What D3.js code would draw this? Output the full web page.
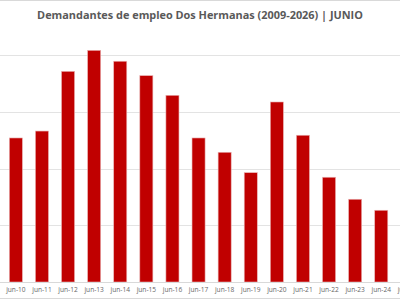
<!DOCTYPE html>
<html><head><meta charset="utf-8">
<script src="https://cdn.jsdelivr.net/npm/d3@7"></script>
<style>body{margin:0;background:#fff}svg{display:block}</style>
</head><body>
<svg id="c" width="400" height="300"></svg>
<script>
const title = "Demandantes de empleo Dos Hermanas (2009-2026) | JUNIO";
const categories = ["jun-09","jun-10","jun-11","jun-12","jun-13","jun-14","jun-15","jun-16","jun-17","jun-18","jun-19","jun-20","jun-21","jun-22","jun-23","jun-24","jun-25"];
const values = [null,12690,13300,18560,20410,19450,18180,16450,12690,11430,9630,15860,12930,9230,7290,6320,5000];
const gridTicks = [0,5000,10000,15000,20000,25000];

const svg = d3.select("#c");
const x = d3.scaleBand().domain(categories).range([-23.3, -23.3 + 17*26.1]).paddingInner(0.5).paddingOuter(0.25);
const y = d3.scaleLinear().domain([0, 20000]).range([282, 55]);

// borders
svg.append("line").attr("x1",0).attr("x2",400).attr("y1",0.5).attr("y2",0.5).attr("stroke","#d9d9d9");
svg.append("line").attr("x1",0).attr("x2",400).attr("y1",298.5).attr("y2",298.5).attr("stroke","#d9d9d9");

// gridlines
svg.append("g").selectAll("line").data(gridTicks.filter(d=>d>0)).join("line")
  .attr("x1",0).attr("x2",400)
  .attr("y1",d=>Math.round(y(d))+0.5).attr("y2",d=>Math.round(y(d))+0.5)
  .attr("stroke","#e3e3e3").attr("stroke-width",1);

// bars
svg.append("g").selectAll("rect").data(categories.map((c,i)=>({c,v:values[i]})).filter(d=>d.v!=null)).join("rect")
  .attr("x",d=>x(d.c)).attr("width",x.bandwidth())
  .attr("y",d=>y(d.v)).attr("height",d=>y(0)-y(d.v))
  .attr("fill","#c00000").attr("stroke","#e9b3b3").attr("stroke-width",0.6);

// x axis
const ax = svg.append("g").attr("transform","translate(0,282)")
  .call(d3.axisBottom(x).tickSize(0).tickPadding(5).tickValues(categories.slice(1)));
ax.select(".domain").attr("stroke","#d9d9d9").attr("d","M0,0.5H400");
ax.selectAll("text").attr("fill","#666").attr("font-family","Open Sans, sans-serif").attr("font-size","6.6px");

// title
svg.append("text").attr("x",200).attr("y",19).attr("text-anchor","middle")
  .attr("font-family","Open Sans, sans-serif").attr("font-weight","bold").attr("font-size","10.9px")
  .attr("fill","#595959").text(title);
</script>
</body></html>
